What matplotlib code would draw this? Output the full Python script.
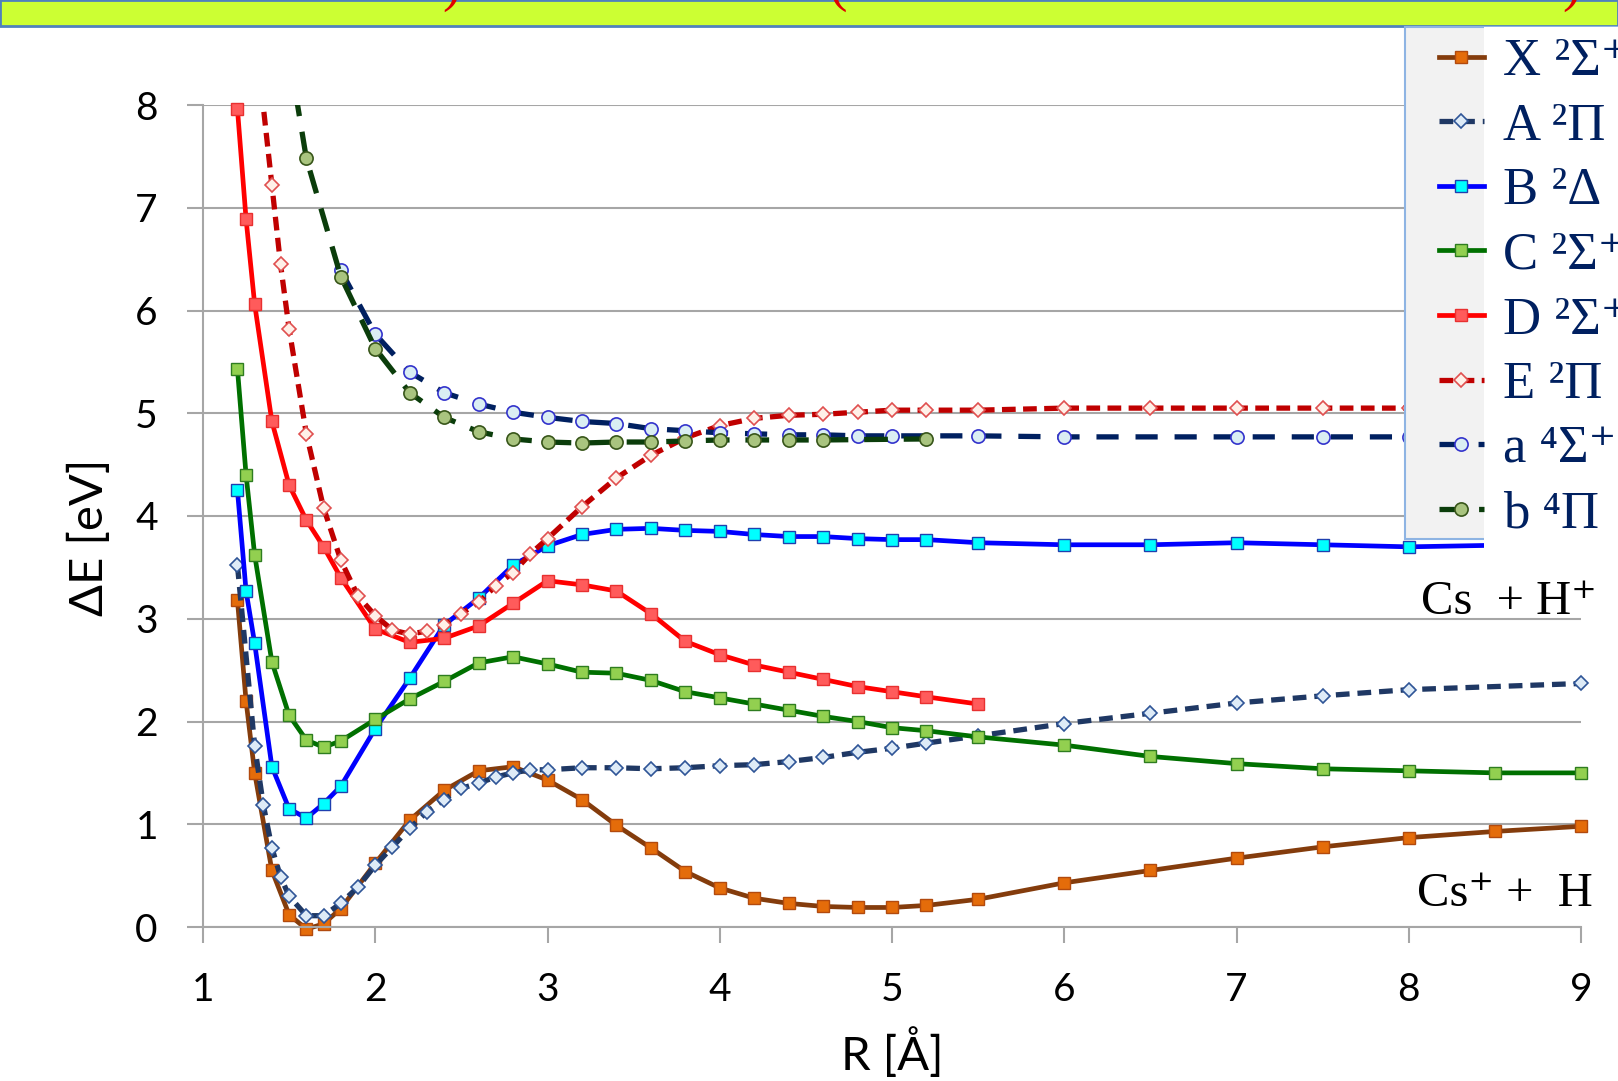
import matplotlib
matplotlib.use("Agg")
import matplotlib.pyplot as plt
from matplotlib.patches import Rectangle

plt.rcParams['font.family'] = ['Lato', 'DejaVu Sans']
serif = ['Liberation Serif', 'DejaVu Serif']

# potential curves, R in Angstrom, dE in eV
X_R = [1.2, 1.25, 1.3, 1.4, 1.5, 1.6, 1.7, 1.8, 2.0, 2.2, 2.4, 2.6, 2.8, 3.0, 3.2, 3.4, 3.6,
       3.8, 4.0, 4.2, 4.4, 4.6, 4.8, 5.0, 5.2, 5.5, 6.0, 6.5, 7.0, 7.5, 8.0, 8.5, 9.0]
X_E = [3.18, 2.20, 1.50, 0.55, 0.12, -0.02, 0.03, 0.18, 0.62, 1.04, 1.33, 1.52, 1.56, 1.43,
       1.24, 0.99, 0.77, 0.54, 0.38, 0.28, 0.23, 0.20, 0.19, 0.19, 0.21, 0.27, 0.43, 0.55,
       0.67, 0.78, 0.87, 0.93, 0.98]

A_R = [1.2, 1.3, 1.35, 1.4, 1.45, 1.5, 1.6, 1.7, 1.8, 1.9, 2.0, 2.1, 2.2, 2.3, 2.4, 2.5, 2.6,
       2.7, 2.8, 2.9, 3.0, 3.2, 3.4, 3.6, 3.8, 4.0, 4.2, 4.4, 4.6, 4.8, 5.0, 5.2, 5.5, 6.0,
       6.5, 7.0, 7.5, 8.0, 9.0]
A_E = [3.52, 1.76, 1.19, 0.77, 0.49, 0.30, 0.11, 0.11, 0.23, 0.39, 0.60, 0.78, 0.96, 1.12,
       1.24, 1.35, 1.40, 1.46, 1.50, 1.53, 1.53, 1.55, 1.55, 1.54, 1.55, 1.57, 1.58, 1.61,
       1.65, 1.70, 1.74, 1.79, 1.86, 1.98, 2.08, 2.18, 2.25, 2.31, 2.37]

B_R = [1.2, 1.25, 1.3, 1.4, 1.5, 1.6, 1.7, 1.8, 2.0, 2.2, 2.4, 2.6, 2.8, 3.0, 3.2, 3.4, 3.6,
       3.8, 4.0, 4.2, 4.4, 4.6, 4.8, 5.0, 5.2, 5.5, 6.0, 6.5, 7.0, 7.5, 8.0, 9.0]
B_E = [4.25, 3.27, 2.76, 1.56, 1.15, 1.06, 1.20, 1.37, 1.93, 2.42, 2.94, 3.20, 3.52, 3.71,
       3.82, 3.87, 3.88, 3.86, 3.85, 3.82, 3.80, 3.80, 3.78, 3.77, 3.77, 3.74, 3.72, 3.72,
       3.74, 3.72, 3.70, 3.73]

C_R = X_R
C_E = [5.43, 4.40, 3.62, 2.58, 2.06, 1.82, 1.75, 1.81, 2.02, 2.22, 2.39, 2.57, 2.63, 2.56,
       2.48, 2.47, 2.40, 2.29, 2.23, 2.17, 2.11, 2.05, 2.00, 1.94, 1.91, 1.85, 1.77, 1.66,
       1.59, 1.54, 1.52, 1.50, 1.50]

D_R = X_R[:26]
D_E = [7.96, 6.89, 6.06, 4.92, 4.30, 3.96, 3.70, 3.40, 2.90, 2.77, 2.81, 2.93, 3.15, 3.37,
       3.33, 3.27, 3.05, 2.78, 2.65, 2.55, 2.48, 2.41, 2.34, 2.29, 2.24, 2.17]

E_R = [1.3, 1.4, 1.45, 1.5, 1.6, 1.7, 1.8, 1.9, 2.0, 2.1, 2.2, 2.3, 2.4, 2.5, 2.6, 2.7, 2.8,
       2.9, 3.0, 3.2, 3.4, 3.6, 3.8, 4.0, 4.2, 4.4, 4.6, 4.8, 5.0, 5.2, 5.5, 6.0, 6.5, 7.0,
       7.5, 8.0, 9.0]
E_E = [8.75, 7.22, 6.45, 5.82, 4.80, 4.08, 3.57, 3.22, 3.03, 2.89, 2.85, 2.88, 2.94, 3.05,
       3.16, 3.32, 3.45, 3.63, 3.78, 4.09, 4.37, 4.59, 4.76, 4.88, 4.95, 4.98, 4.99, 5.01,
       5.03, 5.03, 5.03, 5.05, 5.05, 5.05, 5.05, 5.05, 5.05]

a_R = [1.8, 2.0, 2.2, 2.4, 2.6, 2.8, 3.0, 3.2, 3.4, 3.6, 3.8, 4.0, 4.2, 4.4, 4.6, 4.8, 5.0,
       5.5, 6.0, 7.0, 7.5, 8.0, 9.0]
a_E = [6.39, 5.77, 5.40, 5.20, 5.09, 5.01, 4.96, 4.92, 4.90, 4.85, 4.83, 4.81, 4.80, 4.79,
       4.79, 4.78, 4.78, 4.78, 4.77, 4.77, 4.77, 4.77, 4.77]

b_R = [1.5, 1.6, 1.8, 2.0, 2.2, 2.4, 2.6, 2.8, 3.0, 3.2, 3.4, 3.6, 3.8, 4.0, 4.2, 4.4, 4.6, 5.2]
b_E = [8.5, 7.48, 6.33, 5.63, 5.20, 4.96, 4.82, 4.75, 4.72, 4.71, 4.72, 4.72, 4.73, 4.74,
       4.74, 4.74, 4.74, 4.75]

labels = ['X ²Σ⁺', 'A ²Π', 'B ²Δ', 'C ²Σ⁺', 'D ²Σ⁺', 'E ²Π', 'a ⁴Σ⁺', 'b ⁴Π']

fig = plt.figure(figsize=(16.18, 10.81), dpi=100)
W, H = 1618.0, 1081.0
ax = fig.add_axes([203 / W, 1 - 927 / H, 1378 / W, 822 / H])

lw = 3.4
dlw = 3.8
ms = 8.5
h = []
h += ax.plot(X_R, X_E, color='#843C0C', lw=lw, marker='s', ms=ms, mfc='#E46C0A', mec='#B24A0E', mew=1, clip_on=False)
h += ax.plot(A_R, A_E, color='#1F3864', lw=dlw, ls=(0, (2.6, 1.5)), marker='D', ms=7.5, mfc='#DEEBF7', mec='#2F5597', mew=1.2, clip_on=False)
h += ax.plot(B_R, B_E, color='#0000FF', lw=lw, marker='s', ms=ms, mfc='#00FFFF', mec='#1F3FAF', mew=1, clip_on=False)
h += ax.plot(C_R, C_E, color='#007000', lw=lw, marker='s', ms=ms, mfc='#92D050', mec='#2E7D20', mew=1, clip_on=False)
h += ax.plot(D_R, D_E, color='#FF0000', lw=lw, marker='s', ms=ms, mfc='#FF5B5B', mec='#E83030', mew=1, clip_on=False)
h += ax.plot(E_R, E_E, color='#C00000', lw=dlw, ls=(0, (2.6, 1.4)), marker='D', ms=7.5, mfc='#FFF0E8', mec='#E05050', mew=1.2)
h += ax.plot(a_R, a_E, color='#002060', lw=dlw, ls=(0, (4.2, 3.2)), marker='o', ms=9.5, mfc='#DAEEF3', mec='#3333CC', mew=1.2, clip_on=False)
h += ax.plot(b_R, b_E, color='#0B3D0B', lw=dlw, ls=(0, (4.5, 3.0)), marker='o', ms=9.5, mfc='#A9C47F', mec='#38561A', mew=1.2)

ax.set_xlim(1, 9)
ax.set_ylim(0, 8)
ax.set_xticks(range(1, 10))
ax.set_yticks(range(0, 9))
ax.yaxis.grid(True, color='#A6A6A6', lw=1.5)
ax.set_axisbelow(True)
for s in ['top', 'right']:
    ax.spines[s].set_visible(False)
for s in ['left', 'bottom']:
    ax.spines[s].set_color('#A6A6A6')
    ax.spines[s].set_linewidth(1.5)
ax.tick_params(direction='out', length=11.5, width=1.5, color='#A6A6A6', labelsize=28, pad=21)

ax.set_xlabel('R [Å]', fontsize=34)
ax.set_ylabel('ΔE [eV]', fontsize=34)
ax.xaxis.set_label_coords(0.5, -0.122)
ax.yaxis.set_label_coords(-0.067, 0.474)

ax.text(8.07, 3.05, 'Cs  + H⁺', family=serif, fontsize=35, va='baseline')
ax.text(8.05, 0.20, 'Cs⁺ +  H', family=serif, fontsize=35, va='baseline')

# title banner, cut off at the top
fig.patches.append(Rectangle((0, 1 - 26 / H), 1, 26 / H, transform=fig.transFigure,
                             facecolor='#CCFF33', edgecolor='#4F81BD', lw=2))
for px, ch in [(452, ')'), (838, '('), (1572, ')')]:
    fig.text(px / W, 1.0, ch, color='#E00000', family=serif, fontsize=40, ha='center', va='baseline')

# legend box, partly covered by a white text box with the labels
fig.patches.append(Rectangle((1405 / W, 1 - 539 / H), 213 / W, 512 / H, transform=fig.transFigure,
                             facecolor='#F2F2F2', edgecolor='#8EB4E3', lw=1.5, zorder=1))
fig.patches.append(Rectangle((1484 / W, 1 - 552 / H), 140 / W, 525 / H, transform=fig.transFigure,
                             facecolor='white', edgecolor='none', zorder=2))
fig.legend(h, labels, loc='upper left', bbox_to_anchor=(1439 / W, 1 - 38 / H), frameon=False,
           prop={'family': serif, 'size': 38}, labelcolor='#002060', handlelength=0.85,
           handletextpad=0.36, labelspacing=0.315, borderpad=0, borderaxespad=0)

fig.savefig('out.png', dpi=100)
